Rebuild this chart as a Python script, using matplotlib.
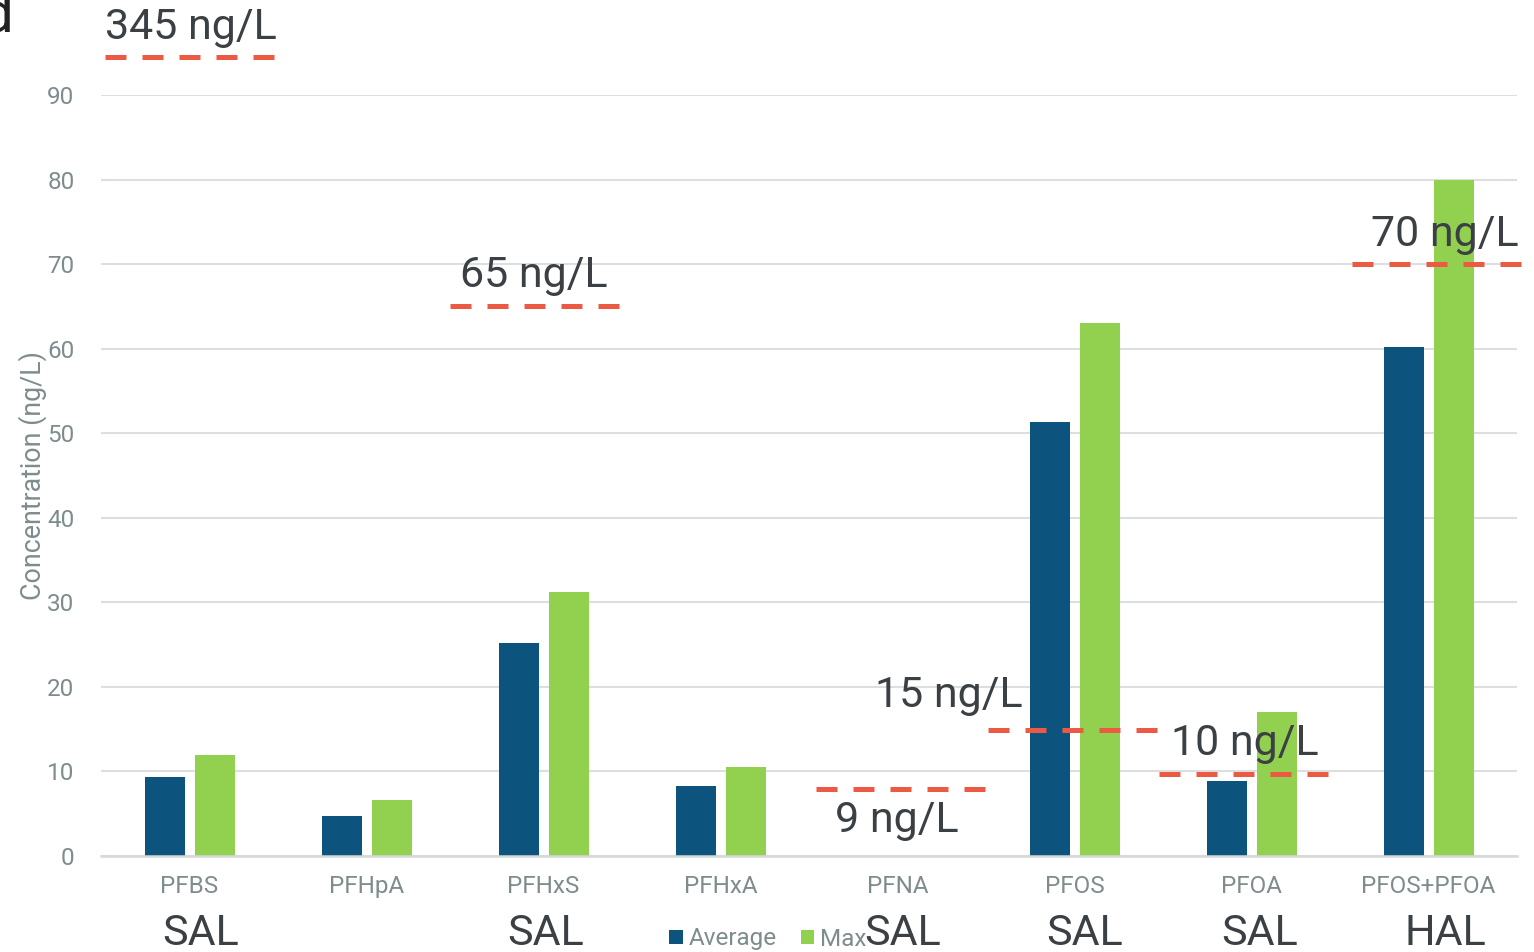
import numpy as np
import matplotlib.pyplot as plt

plt.rcParams['font.family'] = ['Roboto', 'DejaVu Sans']

# data
compounds = ['PFBS', 'PFHpA', 'PFHxS', 'PFHxA', 'PFNA', 'PFOS', 'PFOA', 'PFOS+PFOA']
average = [9.4, 4.7, 25.2, 8.3, 0.0, 51.3, 8.9, 60.2]
maximum = [12.0, 6.6, 31.2, 10.5, 0.0, 63.0, 17.0, 80.0]
limit_type = ['SAL', '', 'SAL', '', 'SAL', 'SAL', 'SAL', 'HAL']

# drawn guideline for each limit (category index, label, level on axis)
limit_idx = [0, 2, 4, 5, 6, 7]
limit_text = ['345 ng/L', '65 ng/L', '9 ng/L', '15 ng/L', '10 ng/L', '70 ng/L']
limit_level = [94.5, 65.0, 7.9, 14.9, 9.7, 70.0]

C_AVG = '#0c537e'
C_MAX = '#92d050'
C_RED = '#ec5a44'
C_TICK = '#7f8c8d'
C_DARK = '#3b4045'

fig = plt.figure(figsize=(15.34, 9.52), dpi=100)
ax = fig.add_axes([101 / 1534, 96 / 952, 1416 / 1534, 761 / 952])

x = np.arange(len(compounds))
w = 0.226
ax.bar(x - 0.138, average, w, color=C_AVG, label='Average', zorder=2)
ax.bar(x + 0.145, maximum, w, color=C_MAX, label='Max', zorder=2)

ax.set_xlim(-0.5, len(compounds) - 0.5)
ax.set_ylim(0, 90)
ax.set_yticks(range(0, 91, 10))
ax.yaxis.grid(True, color='#dcdfe0', linewidth=1.5, zorder=0)
ax.set_axisbelow(True)
for s in ['top', 'right', 'left']:
    ax.spines[s].set_visible(False)
ax.spines['bottom'].set_color('#d5d9da')
ax.spines['bottom'].set_linewidth(1.8)
ax.tick_params(axis='both', length=0, labelsize=17.5, colors=C_TICK)
ax.tick_params(axis='y', pad=19)
ax.tick_params(axis='x', pad=14)
ax.set_xticks(x)
ax.set_xticklabels(compounds)
ax.set_ylabel('Concentration (ng/L)', fontsize=19.3, color=C_TICK, labelpad=0)

# limit guidelines and their labels
line_span = [(-0.48, 0.48), (-0.53, 0.43), (-0.46, 0.51),
             (-0.49, 0.47), (-0.52, 0.44), (-0.43, 0.53)]
text_pos = [(0, 18, 'left'), (-1, 19, 'center'), (-5, -43, 'center'),
            (-124, 23, 'center'), (0, 19, 'center'), (7, 18, 'center')]
for i, lab, lev, sp, tp in zip(limit_idx, limit_text, limit_level, line_span, text_pos):
    x0, x1 = i + sp[0], i + sp[1]
    ax.plot([x0, x1], [lev, lev], color=C_RED, linewidth=3.6,
            dashes=(4.2, 3.2), clip_on=False, zorder=4)
    ax.annotate(lab, xy=(x0 if tp[2] == 'left' else (x0 + x1) / 2, lev),
                xytext=(tp[0], tp[1]), textcoords='offset pixels',
                ha=tp[2], va='baseline', fontsize=31, color=C_DARK,
                annotation_clip=False, zorder=5)

# SAL / HAL labels under the category names
type_shift = [11, 0, 2, 0, 5, 10, 8, 17]
for i, t in enumerate(limit_type):
    if t:
        ax.annotate(t, xy=(i, 0), xycoords=('data', 'axes fraction'),
                    xytext=(type_shift[i], -89), textcoords='offset pixels',
                    ha='center', va='baseline', fontsize=31, color=C_DARK,
                    annotation_clip=False)

fig.legend(*ax.get_legend_handles_labels(), loc='center',
           bbox_to_anchor=(768 / 1534, 13 / 952), bbox_transform=fig.transFigure,
           ncol=2, frameon=False, fontsize=17.5, labelcolor=C_TICK,
           handlelength=0.55, handleheight=0.55, handletextpad=0.25,
           columnspacing=1.0, borderaxespad=0, borderpad=0)

# cropped panel letter
fig.text(-0.013, 1.012, 'd', fontsize=42, color='#222222', va='top')

fig.savefig('out.png', dpi=100)
